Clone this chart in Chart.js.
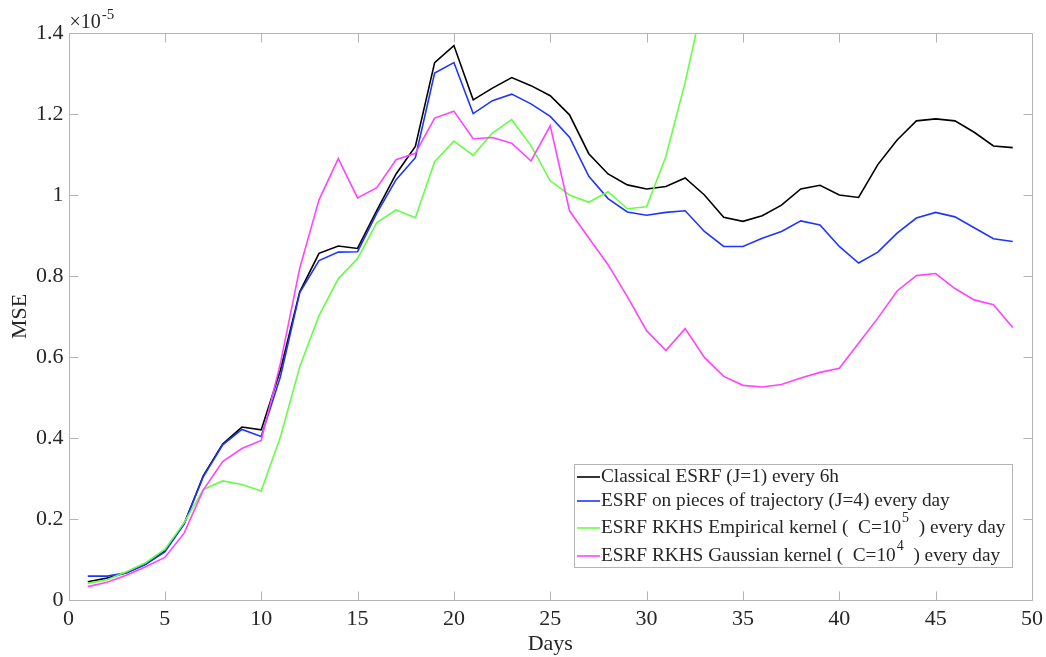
<!DOCTYPE html>
<html>
<head>
<meta charset="utf-8">
<script src="https://cdn.jsdelivr.net/npm/chart.js@4.4.1/dist/chart.umd.min.js"></script>
<style>
  html, body { margin: 0; padding: 0; background: #fff; }
  #wrap { width: 1046px; height: 657px; position: relative; }
</style>
</head>
<body>
<div id="wrap"><canvas id="c" width="1046" height="657"></canvas></div>
<script>
// Days 1..49
const days = [1,2,3,4,5,6,7,8,9,10,11,12,13,14,15,16,17,18,19,20,21,22,23,24,25,26,27,28,29,30,31,32,33,34,35,36,37,38,39,40,41,42,43,44,45,46,47,48,49];

// MSE values (x 1e-5)
const classicalESRF = [0.045,0.054,0.067,0.088,0.121,0.188,0.307,0.385,0.427,0.420,0.568,0.761,0.856,0.874,0.868,0.962,1.052,1.120,1.327,1.369,1.235,1.264,1.290,1.270,1.245,1.198,1.102,1.052,1.025,1.015,1.021,1.042,1.000,0.945,0.935,0.949,0.975,1.015,1.024,1.000,0.994,1.075,1.136,1.183,1.188,1.183,1.155,1.121,1.117];
const piecesESRF = [0.059,0.059,0.067,0.088,0.119,0.188,0.305,0.383,0.421,0.404,0.552,0.759,0.838,0.859,0.860,0.955,1.038,1.092,1.301,1.327,1.201,1.233,1.249,1.225,1.194,1.143,1.046,0.991,0.958,0.950,0.957,0.961,0.910,0.873,0.873,0.893,0.910,0.936,0.926,0.873,0.832,0.859,0.906,0.943,0.957,0.946,0.919,0.892,0.885];
const empiricalRKHS = [0.041,0.050,0.070,0.092,0.125,0.191,0.273,0.294,0.285,0.269,0.403,0.576,0.702,0.793,0.843,0.932,0.963,0.944,1.082,1.133,1.098,1.153,1.186,1.122,1.035,1.000,0.982,1.008,0.966,0.971,1.095,1.278,1.494,null,null,null,null,null,null,null,null,null,null,null,null,null,null,null,null];
const gaussianRKHS = [0.033,0.044,0.061,0.082,0.105,0.165,0.272,0.342,0.374,0.394,0.585,0.819,0.988,1.090,0.993,1.018,1.087,1.103,1.190,1.207,1.139,1.142,1.128,1.084,1.171,0.961,0.894,0.828,0.749,0.665,0.616,0.670,0.599,0.552,0.530,0.526,0.532,0.548,0.562,0.572,0.634,0.696,0.763,0.801,0.806,0.769,0.741,0.729,0.673];

const xTicks = [0,5,10,15,20,25,30,35,40,45,50];
const yTicks = [0,0.2,0.4,0.6,0.8,1,1.2,1.4];

const seriesNames = [
  ['Classical ESRF (J=1) every 6h'],
  ['ESRF on pieces of trajectory (J=4) every day'],
  ['ESRF RKHS Empirical kernel (  C=10', '5', '  ) every day'],
  ['ESRF RKHS Gaussian kernel (  C=10', '4', '  ) every day']
];
const seriesColors = ['#000000', '#1f35ff', '#66ff44', '#ff44ff'];
const seriesData = [classicalESRF, piecesESRF, empiricalRKHS, gaussianRKHS];

const FONT = '"Liberation Serif", "Times New Roman", serif';
const AXIS_COLOR = '#b4b4b4';
const TEXT_COLOR = '#262626';

const datasets = seriesData.map((vals, i) => ({
  label: seriesNames[i].join(''),
  data: days.map((d, k) => ({x: d, y: vals[k]})),
  borderColor: seriesColors[i],
  backgroundColor: seriesColors[i],
  borderWidth: 1.6,
  pointRadius: 0,
  tension: 0,
  spanGaps: false,
  clip: 0
}));
datasets.forEach((d, i) => d.order = 4 - i);

const boxPlugin = {
  id: 'boxPlugin',
  afterDatasetsDraw(chart) {
    const {ctx, chartArea: a, scales: {x, y}} = chart;
    ctx.save();
    ctx.strokeStyle = AXIS_COLOR;
    ctx.lineWidth = 1;
    const L = Math.round(a.left) + 0.5, R = Math.round(a.right) + 0.5;
    const T = Math.round(a.top) + 0.5, B = Math.round(a.bottom) + 0.5;
    ctx.beginPath();
    ctx.rect(L, T, R - L, B - T);
    ctx.stroke();
    const tl = 9;
    ctx.beginPath();
    xTicks.forEach(v => {
      const px = Math.round(x.getPixelForValue(v)) + 0.5;
      ctx.moveTo(px, B); ctx.lineTo(px, B - tl);
      ctx.moveTo(px, T); ctx.lineTo(px, T + tl);
    });
    yTicks.forEach(v => {
      const py = Math.round(y.getPixelForValue(v)) + 0.5;
      ctx.moveTo(L, py); ctx.lineTo(L + tl, py);
      ctx.moveTo(R, py); ctx.lineTo(R - tl, py);
    });
    ctx.stroke();

    // exponent label
    ctx.fillStyle = TEXT_COLOR;
    ctx.textBaseline = 'alphabetic';
    ctx.textAlign = 'left';
    ctx.font = '20px ' + FONT;
    ctx.fillText('\u00d710', a.left + 1, a.top - 5);
    const w = ctx.measureText('\u00d710').width;
    ctx.font = '15px ' + FONT;
    ctx.fillText('-5', a.left + 1 + w + 1, a.top - 14);

    // legend
    const lx = 574.5, ly = 464.5, lw = 438, lh = 103;
    ctx.fillStyle = '#ffffff';
    ctx.fillRect(lx, ly, lw, lh);
    ctx.strokeStyle = AXIS_COLOR;
    ctx.strokeRect(lx, ly, lw, lh);
    const rowY = [477, 501, 528, 556];
    seriesNames.forEach((parts, i) => {
      const cy = rowY[i];
      ctx.strokeStyle = seriesColors[i];
      ctx.lineWidth = 1.6;
      ctx.beginPath();
      ctx.moveTo(577, cy); ctx.lineTo(600, cy);
      ctx.stroke();
      ctx.fillStyle = TEXT_COLOR;
      ctx.textBaseline = 'middle';
      let tx = 601;
      parts.forEach((p, k) => {
        if (k === 1) {
          ctx.font = '14px ' + FONT;
          ctx.fillText(p, tx + 1, cy - 10);
        } else {
          ctx.font = '19.3px ' + FONT;
          ctx.fillText(p, tx, cy);
        }
        tx += ctx.measureText(p).width + (k === 1 ? 1 : 0);
      });
    });
    ctx.restore();
  }
};

new Chart(document.getElementById('c'), {
  type: 'line',
  data: { datasets },
  options: {
    responsive: false,
    animation: false,
    devicePixelRatio: 1,
    layout: { padding: { top: 33, right: 14, left: 0, bottom: 0 } },
    plugins: { legend: { display: false }, tooltip: { enabled: false } },
    scales: {
      x: {
        type: 'linear',
        min: 0, max: 50,
        afterBuildTicks(s) { s.ticks = xTicks.map(v => ({value: v})); },
        afterFit(s) { s.height = 57; s.paddingLeft = 0; s.paddingRight = 0; },
        grid: { display: false, drawTicks: false },
        border: { display: false },
        ticks: {
          color: TEXT_COLOR, padding: 6, maxRotation: 0,
          font: { family: FONT, size: 22 },
          callback: v => String(v)
        },
        title: {
          display: true, text: 'Days', color: TEXT_COLOR,
          font: { family: FONT, size: 22 }, padding: { top: 0, bottom: 0 }
        }
      },
      y: {
        type: 'linear',
        min: 0, max: 1.4,
        afterBuildTicks(s) { s.ticks = yTicks.map(v => ({value: v})); },
        afterFit(s) { s.width = 68.5; s.paddingTop = 0; s.paddingBottom = 0; },
        grid: { display: false, drawTicks: false },
        border: { display: false },
        ticks: {
          color: TEXT_COLOR, padding: 5,
          font: { family: FONT, size: 22 },
          callback: v => String(Math.round(v * 10) / 10)
        },
        title: {
          display: true, text: 'MSE', color: TEXT_COLOR,
          font: { family: FONT, size: 22 }, padding: { top: 7, bottom: 0 }
        }
      }
    }
  },
  plugins: [boxPlugin]
});
</script>
</body>
</html>
